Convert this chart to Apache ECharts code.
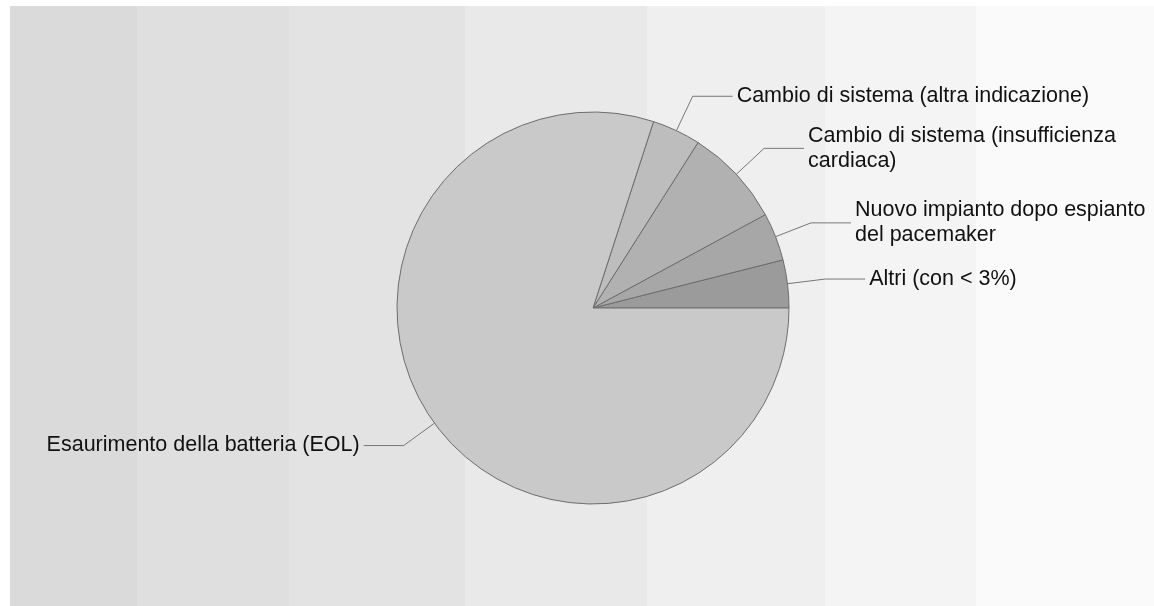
<!DOCTYPE html>
<html>
<head>
<meta charset="utf-8">
<script src="https://cdn.jsdelivr.net/npm/echarts@6/dist/echarts.min.js"></script>
<style>
html,body{margin:0;padding:0;background:#ffffff;}
#chart{width:1154px;height:606px;}
</style>
</head>
<body>
<div id="chart"></div>
<script>
// ---- data ----
const categories = [
  'Altri (con < 3%)',
  'Nuovo impianto dopo espianto del pacemaker',
  'Cambio di sistema (insufficienza cardiaca)',
  'Cambio di sistema (altra indicazione)',
  'Esaurimento della batteria (EOL)'
];
const labelTexts = [
  'Altri (con < 3%)',
  'Nuovo impianto dopo espianto\ndel pacemaker',
  'Cambio di sistema (insufficienza\ncardiaca)',
  'Cambio di sistema (altra indicazione)',
  'Esaurimento della batteria (EOL)'
];
const values = [3.95, 3.95, 8.1, 4.0, 80.0];

// ---- style ----
const sliceColors = ['#9b9b9b', '#a7a7a7', '#b1b1b1', '#bdbdbd', '#c9c9c9'];
const bandEdges = [10, 137, 289, 465, 647, 825, 976, 1154];
const bandColors = ['#dadada', '#dfdfdf', '#e3e3e3', '#e9e9e9', '#efefef', '#f4f4f4', '#fafafa'];

const bands = [];
for (let i = 0; i < bandColors.length; i++) {
  bands.push({
    type: 'rect', silent: true, z: -10,
    shape: { x: bandEdges[i], y: 6, width: bandEdges[i + 1] - bandEdges[i], height: 600 },
    style: { fill: bandColors[i] }
  });
}

const chart = echarts.init(document.getElementById('chart'), null, { renderer: 'canvas' });
chart.setOption({
  animation: false,
  backgroundColor: '#ffffff',
  graphic: bands,
  series: [{
    type: 'pie',
    center: [593, 308],
    radius: 196,
    startAngle: 0,
    clockwise: false,
    avoidLabelOverlap: false,
    data: categories.map((c, i) => ({
      name: c,
      value: values[i],
      itemStyle: { color: sliceColors[i] }
    })),
    itemStyle: { borderColor: '#6e6e6e', borderWidth: 1 },
    label: {
      show: true,
      position: 'outside',
      formatter: p => labelTexts[p.dataIndex],
      fontFamily: 'Liberation Sans, Arial, sans-serif',
      fontSize: 21.5,
      lineHeight: 25,
      color: '#111111',
      distanceToLabelLine: 4
    },
    labelLine: {
      show: true,
      length: 38,
      length2: 40,
      smooth: false,
      lineStyle: { color: '#777777', width: 1 }
    },
    emphasis: { disabled: true }
  }]
});
</script>
</body>
</html>
